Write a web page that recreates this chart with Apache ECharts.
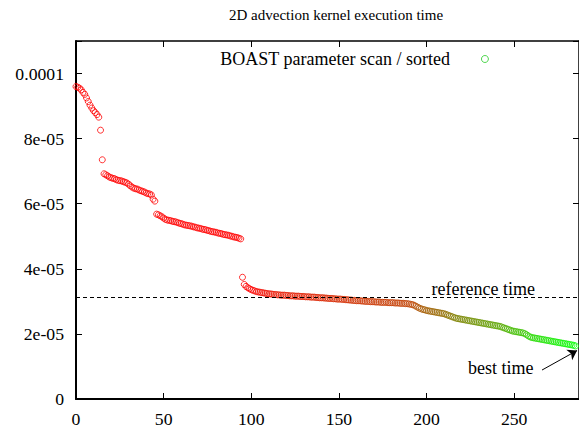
<!DOCTYPE html>
<html><head><meta charset="utf-8">
<script src="https://cdn.jsdelivr.net/npm/echarts@6/dist/echarts.min.js"></script>
<style>html,body{margin:0;padding:0;background:#fff}#c{width:579px;height:428px}</style>
</head><body><div id="c"></div>
<script>
const titleText = '2D advection kernel execution time';
const seriesName = 'BOAST parameter scan / sorted';
// sorted kernel execution times, in units of 1e-5 s (index = scan rank)
const execTimesE5 = [
 9.60, 9.58, 9.55, 9.50, 9.42, 9.36, 9.25, 9.14, 9.03, 8.94, 8.86, 8.80, 8.74, 8.66,
 8.26, 7.35,
 6.92, 6.89, 6.86, 6.82, 6.80, 6.78, 6.77, 6.74, 6.72, 6.71, 6.70, 6.68, 6.66, 6.64, 6.60,
 6.55, 6.51, 6.48, 6.46, 6.45, 6.42, 6.40, 6.38, 6.36, 6.33, 6.31, 6.30, 6.27, 6.14, 6.08,
 5.68, 5.66, 5.63, 5.60, 5.56, 5.52, 5.50, 5.49, 5.48, 5.46, 5.45, 5.44, 5.42, 5.40, 5.39,
 5.37, 5.35, 5.34, 5.33, 5.32, 5.31, 5.29, 5.28, 5.26, 5.25, 5.24, 5.22, 5.21, 5.20, 5.18,
 5.17, 5.15, 5.14, 5.13, 5.12, 5.10, 5.09, 5.08, 5.06, 5.05, 5.04, 5.03, 5.01, 5.00, 4.98,
 4.97, 4.96, 4.94, 4.92,
 3.74, 3.52, 3.46, 3.42, 3.39,
 3.36, 3.34, 3.32, 3.30, 3.29, 3.28, 3.27, 3.26, 3.25, 3.24, 3.23, 3.23, 3.22, 3.21, 3.21,
 3.20, 3.20, 3.19, 3.19, 3.19, 3.18, 3.18, 3.17, 3.17, 3.17, 3.16, 3.16, 3.16, 3.15, 3.15,
 3.15, 3.14, 3.14, 3.14, 3.13, 3.13, 3.13, 3.12, 3.12, 3.11, 3.11, 3.11, 3.10, 3.10, 3.09,
 3.09, 3.09, 3.08, 3.08, 3.07, 3.07, 3.07, 3.06, 3.06, 3.05, 3.05, 3.04, 3.04, 3.03, 3.03,
 3.02, 3.02, 3.02, 3.01, 3.01, 3.00, 3.00, 3.00, 2.99, 2.99, 2.99, 2.98, 2.98, 2.98, 2.97,
 2.97, 2.97, 2.97, 2.96, 2.96, 2.96, 2.96, 2.95, 2.95, 2.95, 2.94, 2.94, 2.94, 2.93, 2.93,
 2.92, 2.91,
 2.90, 2.88, 2.85, 2.82, 2.79, 2.77, 2.75, 2.74, 2.72, 2.71, 2.70, 2.69, 2.68, 2.67, 2.66,
 2.65, 2.64, 2.63, 2.62, 2.60, 2.58, 2.56, 2.54, 2.52, 2.50, 2.48, 2.47, 2.46, 2.45, 2.44,
 2.43, 2.42, 2.41, 2.40, 2.39, 2.38, 2.37, 2.36, 2.35, 2.34, 2.33, 2.32, 2.31, 2.30, 2.29,
 2.28, 2.27, 2.26, 2.25, 2.24, 2.23, 2.21, 2.19, 2.17, 2.15, 2.13, 2.11, 2.09, 2.08, 2.07,
 2.06, 2.05, 2.04, 2.03, 2.01, 1.98, 1.94, 1.91, 1.89, 1.88, 1.87, 1.86, 1.85, 1.84, 1.83,
 1.82, 1.81, 1.80, 1.79, 1.78, 1.77, 1.76, 1.75, 1.74, 1.73, 1.72, 1.71, 1.70, 1.69, 1.68,
 1.67, 1.66, 1.65, 1.63
];
const yTickLabels = ['0', '2e-05', '4e-05', '6e-05', '8e-05', '0.0001'];
const referenceTimeE5 = 3.13;
const refLabelText = 'reference time';
const bestLabelText = 'best time';
const refLabelPos = [232.4, 3.39];
const bestLabelPos = [242.3, 0.95];
const bestArrowFrom = [265.9, 0.89];
const bestArrowTo = [285.9, 1.49];

const FONT = 'Liberation Serif';
const colorLo = 1.63, colorHi = 3.35;
function timeColor(v) {
  const t = Math.max(0, Math.min(1, (v - colorLo) / (colorHi - colorLo)));
  return 'rgb(' + Math.round(255 * t) + ',' + Math.round(255 * (1 - t)) + ',0)';
}

const chart = echarts.init(document.getElementById('c'), null, {renderer: 'svg'});
const axisLineStyle = {color: '#000', width: 1.5};
const tickStyle = {color: '#000', width: 1};
chart.setOption({
  animation: false,
  backgroundColor: '#fff',
  title: {
    text: titleText, left: 229, top: 7, padding: 0,
    textStyle: {fontFamily: FONT, fontSize: 15, fontWeight: 'normal', color: '#000'}
  },
  legend: {
    left: 220, top: 50, padding: 0, align: 'right', itemWidth: 60, itemHeight: 7,
    selectedMode: false,
    textStyle: {fontFamily: FONT, fontSize: 18, color: '#000'},
    data: [{name: seriesName, icon: 'circle',
      itemStyle: {color: 'transparent', borderColor: '#22cc22', borderWidth: 1}}]
  },
  grid: {left: 76, right: -1, top: 41, bottom: 26},
  xAxis: [
    {type: 'value', min: 0, max: 287, interval: 50, position: 'bottom',
     axisLine: {show: true, onZero: false, lineStyle: {color: '#000', width: 2}},
     axisTick: {show: true, inside: true, length: 6, lineStyle: tickStyle},
     axisLabel: {fontFamily: FONT, fontSize: 17.7, color: '#000', margin: 11, showMaxLabel: false},
     splitLine: {show: false}},
    {type: 'value', min: 0, max: 287, interval: 50, position: 'top',
     axisLine: {show: true, onZero: false, lineStyle: axisLineStyle},
     axisTick: {show: true, inside: true, length: 6, lineStyle: tickStyle},
     axisLabel: {show: false}, splitLine: {show: false}}
  ],
  yAxis: [
    {type: 'value', min: 0, max: 11, interval: 2, position: 'left',
     axisLine: {show: true, onZero: false, lineStyle: {color: '#000', width: 2}},
     axisTick: {show: true, inside: true, length: 6, lineStyle: tickStyle},
     axisLabel: {fontFamily: FONT, fontSize: 17.7, color: '#000', margin: 12,
       formatter: function (v) { const k = v / 2; return Number.isInteger(k) && yTickLabels[k] !== undefined ? yTickLabels[k] : ''; }},
     splitLine: {show: false}},
    {type: 'value', min: 0, max: 11, interval: 2, position: 'right',
     axisLine: {show: true, onZero: false, lineStyle: axisLineStyle},
     axisTick: {show: true, inside: true, length: 6, lineStyle: tickStyle},
     axisLabel: {show: false}, splitLine: {show: false}}
  ],
  series: [{
    type: 'scatter', name: seriesName, symbol: 'circle', symbolSize: 6,
    itemStyle: {color: 'transparent', borderWidth: 1},
    emphasis: {disabled: true},
    data: execTimesE5.map(function (v, i) {
      return {value: [i, v], itemStyle: {borderColor: timeColor(v)}};
    }),
    markLine: {
      silent: true, symbol: ['none', 'none'], label: {show: false},
      data: [
        {yAxis: referenceTimeE5, lineStyle: {type: [4, 3], color: '#000', width: 1}},
        [
          {coord: bestArrowFrom, symbol: 'none', lineStyle: {type: 'solid', color: '#000', width: 1}},
          {coord: bestArrowTo, symbol: 'arrow', symbolSize: 9}
        ]
      ]
    },
    markPoint: {
      silent: true, symbol: 'circle', symbolSize: 1,
      itemStyle: {color: 'transparent'},
      label: {show: true, position: 'inside', color: '#000', fontFamily: FONT, fontSize: 18},
      data: [
        {coord: refLabelPos, label: {formatter: refLabelText}},
        {coord: bestLabelPos, label: {formatter: bestLabelText}}
      ]
    }
  }]
});
</script></body></html>
